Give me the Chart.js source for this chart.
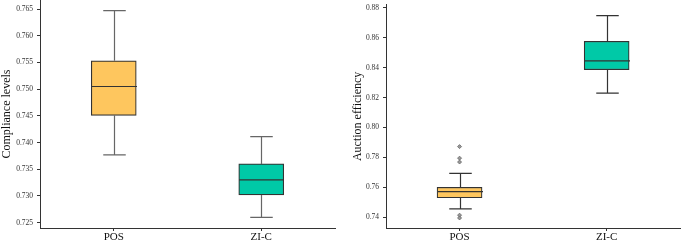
<!DOCTYPE html>
<html>
<head>
<meta charset="utf-8">
<script src="https://cdn.jsdelivr.net/npm/chart.js@4.4.0/dist/chart.umd.min.js"></script>
<style>
  html, body { margin: 0; padding: 0; background: #fff; }
  .wrap { position: relative; width: 685px; height: 240px; }
  #leftWrap { position: absolute; left: 0; top: 0; width: 342px; height: 240px; }
  #rightWrap { position: absolute; left: 342px; top: 0; width: 343px; height: 240px; }
</style>
</head>
<body>
<div class="wrap">
  <div id="leftWrap"><canvas id="complianceChart"></canvas></div>
  <div id="rightWrap"><canvas id="efficiencyChart"></canvas></div>
</div>
<script>
const groups = ['POS', 'ZI-C'];
const boxColors = ['#FEC65E', '#00C9A7'];

// Compliance levels: [min, q1, median, q3, max]
const complianceMin = [0.7377, 0.7260];
const complianceQ1 = [0.7451, 0.7302];
const complianceMedian = [0.7505, 0.7330];
const complianceQ3 = [0.7553, 0.7360];
const complianceMax = [0.7647, 0.7411];
const complianceTicks = [0.725, 0.730, 0.735, 0.740, 0.745, 0.750, 0.755, 0.760, 0.765];

// Auction efficiency
const efficiencyMin = [0.7456, 0.8229];
const efficiencyQ1 = [0.7530, 0.8386];
const efficiencyMedian = [0.7571, 0.8445];
const efficiencyQ3 = [0.7600, 0.8576];
const efficiencyMax = [0.7693, 0.8748];
const efficiencyOutlierGroup = ['POS', 'POS', 'POS', 'POS', 'POS'];
const efficiencyOutliers = [0.7872, 0.7795, 0.7769, 0.7414, 0.7395];
const efficiencyTicks = [0.74, 0.76, 0.78, 0.80, 0.82, 0.84, 0.86, 0.88];

const serif = 'Liberation Serif';

// draws whiskers and median lines from the stats arrays
const whiskerPlugin = {
    id: 'whiskers',
    afterDatasetsDraw(chart, args, opts) {
        const ctx = chart.ctx;
        const x = chart.scales.x;
        const y = chart.scales.y;
        ctx.save();
        groups.forEach((g, i) => {
            const cx = Math.round(x.getPixelForValue(i)) + 0.5;
            const half = opts.boxWidth / 2;
            const capHalf = opts.boxWidth / 4;
            const pMin = y.getPixelForValue(opts.min[i]);
            const pQ1 = y.getPixelForValue(opts.q1[i]);
            const pMed = y.getPixelForValue(opts.median[i]);
            const pQ3 = y.getPixelForValue(opts.q3[i]);
            const pMax = y.getPixelForValue(opts.max[i]);
            ctx.strokeStyle = opts.whiskerColor;
            ctx.lineWidth = 1.2;
            ctx.beginPath();
            ctx.moveTo(cx, pQ3); ctx.lineTo(cx, pMax);
            ctx.moveTo(cx - capHalf, pMax); ctx.lineTo(cx + capHalf, pMax);
            ctx.moveTo(cx, pQ1); ctx.lineTo(cx, pMin);
            ctx.moveTo(cx - capHalf, pMin); ctx.lineTo(cx + capHalf, pMin);
            ctx.stroke();
            ctx.strokeStyle = '#333';
            ctx.lineWidth = 1.2;
            ctx.beginPath();
            ctx.moveTo(cx - half, pMed); ctx.lineTo(cx + half, pMed);
            ctx.stroke();
        });
        ctx.restore();
    }
};

function makeOptions(minV, maxV, ticks, title, yWidth, titlePad, padRight, stats) {
    return {
        responsive: true,
        maintainAspectRatio: false,
        animation: false,
        layout: { padding: { left: 0, right: padRight, top: 0, bottom: 0 } },
        plugins: {
            legend: { display: false },
            tooltip: { enabled: false },
            whiskers: stats
        },
        scales: {
            x: {
                grid: { display: true, drawOnChartArea: false, offset: false, tickLength: 3, color: '#333' },
                border: { color: '#333', width: 1 },
                ticks: { color: '#111', font: { family: serif, size: 11 }, padding: 0 },
                afterFit: (s) => { s.height = 12; s.paddingLeft = 0; s.paddingRight = 0; }
            },
            y: {
                min: minV, max: maxV,
                afterBuildTicks: (s) => { s.ticks = ticks.map(v => ({ value: v })); },
                grid: { display: true, drawOnChartArea: false, tickLength: 3, color: '#333' },
                border: { color: '#333', width: 1 },
                ticks: {
                    color: '#333', padding: 4,
                    font: { family: serif, size: 7.5 },
                    callback: (v) => ticks.length === 9 ? v.toFixed(3) : v.toFixed(2)
                },
                title: {
                    display: true, text: title, color: '#111',
                    font: { family: serif, size: 12 },
                    padding: { top: titlePad, bottom: 0 }
                },
                afterFit: (s) => { s.width = yWidth; s.paddingTop = 0; s.paddingBottom = 0; }
            }
        }
    };
}

new Chart(document.getElementById('complianceChart'), {
    type: 'bar',
    data: {
        labels: groups,
        datasets: [{
            data: groups.map((g, i) => [complianceQ1[i], complianceQ3[i]]),
            backgroundColor: boxColors,
            borderColor: '#333',
            borderWidth: 1.2,
            borderSkipped: false,
            barThickness: 45
        }]
    },
    options: makeOptions(0.7240, 0.7667, complianceTicks, 'Compliance levels', 40, 0, 7, {
        boxWidth: 45, whiskerColor: '#666',
        min: complianceMin, q1: complianceQ1, median: complianceMedian, q3: complianceQ3, max: complianceMax
    }),
    plugins: [whiskerPlugin]
});

new Chart(document.getElementById('efficiencyChart'), {
    type: 'bar',
    data: {
        labels: groups,
        datasets: [{
            data: groups.map((g, i) => [efficiencyQ1[i], efficiencyQ3[i]]),
            backgroundColor: boxColors,
            borderColor: '#333',
            borderWidth: 1.2,
            borderSkipped: false,
            barThickness: 45
        }, {
            type: 'line',
            showLine: false,
            data: efficiencyOutliers.map((v, i) => ({ x: efficiencyOutlierGroup[i], y: v })),
            pointStyle: 'rectRot',
            pointRadius: 2,
            backgroundColor: '#999',
            borderColor: '#666',
            borderWidth: 0.8
        }]
    },
    options: makeOptions(0.7328, 0.8820, efficiencyTicks, 'Auction efficiency', 44, 9, 1, {
        boxWidth: 45, whiskerColor: '#333',
        min: efficiencyMin, q1: efficiencyQ1, median: efficiencyMedian, q3: efficiencyQ3, max: efficiencyMax
    }),
    plugins: [whiskerPlugin]
});
</script>
</body>
</html>
